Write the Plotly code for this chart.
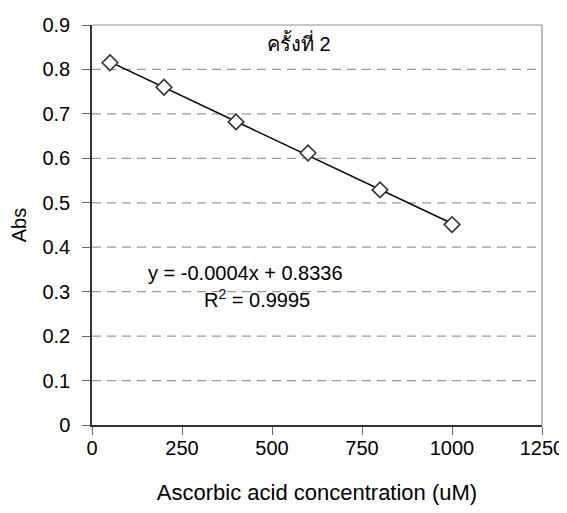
import numpy as np
import plotly.graph_objects as go

# dados
conc = [50, 200, 400, 600, 800, 1000]
absorb = [0.815, 0.760, 0.682, 0.612, 0.529, 0.451]

x_ticks = [0, 250, 500, 750, 1000, 1250]
y_ticks = [0, 0.1, 0.2, 0.3, 0.4, 0.5, 0.6, 0.7, 0.8, 0.9]
grid_levels = [0.1, 0.2, 0.3, 0.4, 0.5, 0.6, 0.7, 0.8]

titulo = "ครั้งที่ 2"
eq_text = "y = -0.0004x + 0.8336"
r2_text = "R<sup>2</sup> = 0.9995"

# linha de tendencia (ajuste linear, como no Excel)
a, b = np.polyfit(conc, absorb, 1)
x_fit = [min(conc), max(conc)]
y_fit = [a * v + b for v in x_fit]

fonte = "Liberation Sans, Arial, sans-serif"

fig = go.Figure()
fig.add_trace(go.Scatter(x=x_fit, y=y_fit, mode="lines",
                         line=dict(color="black", width=1.5),
                         hoverinfo="skip", showlegend=False))
fig.add_trace(go.Scatter(x=conc, y=absorb, mode="markers",
                         marker=dict(symbol="diamond", size=12, color="white",
                                     line=dict(color="#333333", width=1.6)),
                         showlegend=False))

# linhas de grade tracejadas
for g in grid_levels:
    fig.add_shape(type="line", xref="paper", x0=0, x1=1, yref="y", y0=g, y1=g,
                  line=dict(color="#9a9a9a", width=1.2, dash="9px,6px"), layer="below")
# bordas superior e direita
fig.add_shape(type="line", xref="paper", x0=1, x1=1, yref="paper", y0=0, y1=1,
              line=dict(color="#909090", width=1.2))
fig.add_shape(type="line", xref="paper", x0=0, x1=1, yref="paper", y0=1, y1=1,
              line=dict(color="#909090", width=1.2))

fig.add_annotation(x=575, y=0.86, text=titulo, showarrow=False,
                   font=dict(family=fonte, size=20, color="black"))
fig.add_annotation(x=425, y=0.343, text=eq_text, showarrow=False,
                   font=dict(family=fonte, size=20, color="black"))
fig.add_annotation(x=458, y=0.285, text=r2_text, showarrow=False,
                   font=dict(family=fonte, size=20, color="black"))

fig.update_xaxes(range=[0, 1250], tickvals=x_ticks, ticks="outside", ticklen=8,
                 tickcolor="#666666", tickwidth=1.2, showgrid=False, zeroline=False,
                 showline=True, linecolor="#333333", linewidth=1.5, automargin=False,
                 ticklabelstandoff=-4, ticklabeloverflow="allow",
                 tickfont=dict(family=fonte, size=20, color="black"),
                 title=dict(text="Ascorbic acid concentration (uM)",
                            font=dict(family=fonte, size=22, color="black"), standoff=28))
fig.update_yaxes(range=[0, 0.9], tickvals=y_ticks, ticktext=["0"] + [str(v) for v in y_ticks[1:]],
                 ticks="outside", ticklen=8, automargin=False, ticklabelstandoff=8,
                 tickcolor="#666666", tickwidth=1.2, showgrid=False, zeroline=False,
                 showline=True, linecolor="#333333", linewidth=1.5,
                 tickfont=dict(family=fonte, size=20, color="black"),
                 title=dict(text="Abs", font=dict(family=fonte, size=20, color="black"),
                            standoff=13))

# a pagina tem 8px de margem no body: altura menor para nao aparecer barra de rolagem
fig.update_layout(width=559, height=497, plot_bgcolor="white", paper_bgcolor="white",
                  margin=dict(l=84, r=25, t=17, b=80))

fig.write_html("out.html")
